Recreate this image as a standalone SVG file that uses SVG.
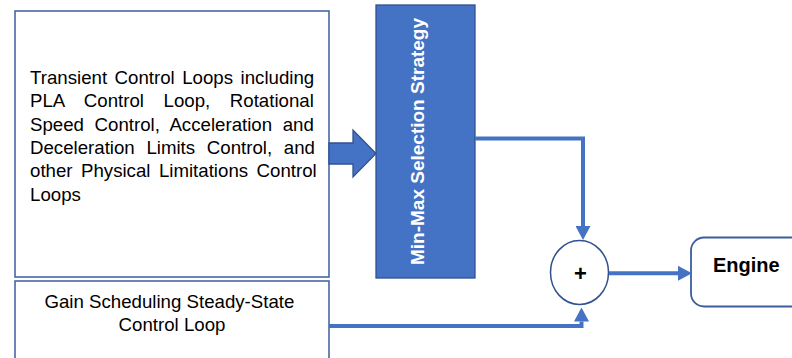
<svg xmlns="http://www.w3.org/2000/svg" width="792" height="358" viewBox="0 0 792 358">
  <style>
    .box { fill: #ffffff; stroke: #3A5E9E; stroke-width: 1.5; }
    .blue { fill: #4472C4; stroke: #2F528F; stroke-width: 1.3; }
    .txt { font-family: "Liberation Sans", Arial, sans-serif; font-size: 18.67px; fill: #000000; }
    .btxt { font-family: "Liberation Sans", Arial, sans-serif; font-weight: bold; }
    .conn { fill: none; stroke: #4472C4; stroke-width: 4; }
  </style>
  <defs>
    <marker id="arrow" viewBox="0 0 14 15" refX="0" refY="7.5" markerWidth="14" markerHeight="15" markerUnits="userSpaceOnUse" orient="auto">
      <path d="M0,0 L14,7.5 L0,15 Z" fill="#4472C4"/>
    </marker>
  </defs>

  <g id="transient">
    <rect class="box" x="15" y="11" width="314" height="266"/>
    <text class="txt">
      <tspan x="30" y="84" word-spacing="2.31">Transient Control Loops including</tspan>
      <tspan x="30" y="107.3" word-spacing="14.41">PLA Control Loop, Rotational</tspan>
      <tspan x="30" y="130.6" word-spacing="5.41">Speed Control, Acceleration and</tspan>
      <tspan x="30" y="154" word-spacing="6.48">Deceleration Limits Control, and</tspan>
      <tspan x="30" y="177.3" word-spacing="3.28">other Physical Limitations Control</tspan>
      <tspan x="30" y="200.6">Loops</tspan>
    </text>
  </g>

  <g id="gain">
    <rect class="box" x="15" y="281" width="314" height="100"/>
    <text class="txt" text-anchor="middle">
      <tspan x="172" y="307.5">Gain Scheduling Steady-State</tspan>
      <tspan x="172" y="330.8">Control Loop</tspan>
    </text>
  </g>

  <g id="minmax">
    <rect class="blue" x="376" y="5" width="99" height="273"/>
    <text class="btxt" font-size="19" fill="#ffffff" text-anchor="middle" transform="translate(424,141.5) rotate(-90)">Min-Max Selection Strategy</text>
  </g>

  <g id="sum">
    <ellipse cx="579.5" cy="272.5" rx="29" ry="32" fill="#ffffff" stroke="#2F528F" stroke-width="1.5"/>
    <text class="btxt" font-size="22" fill="#000000" text-anchor="middle" x="580.5" y="281">+</text>
  </g>

  <g id="engine">
    <rect x="691" y="237.5" width="130" height="69" rx="13" fill="#ffffff" stroke="#3A5E9E" stroke-width="1.8"/>
    <text class="btxt" font-size="20" fill="#000000" x="713" y="272">Engine</text>
  </g>

  <g id="connectors">
    <polygon class="blue" points="329,143 353,143 353,130 376,153.5 353,177 353,164 329,164"/>
    <path class="conn" d="M475,138.5 H583 V226" marker-end="url(#arrow)"/>
    <path class="conn" d="M329,326 H581.5 V321.5" marker-end="url(#arrow)"/>
    <path class="conn" d="M609,273.3 H678" marker-end="url(#arrow)"/>
  </g>
</svg>
